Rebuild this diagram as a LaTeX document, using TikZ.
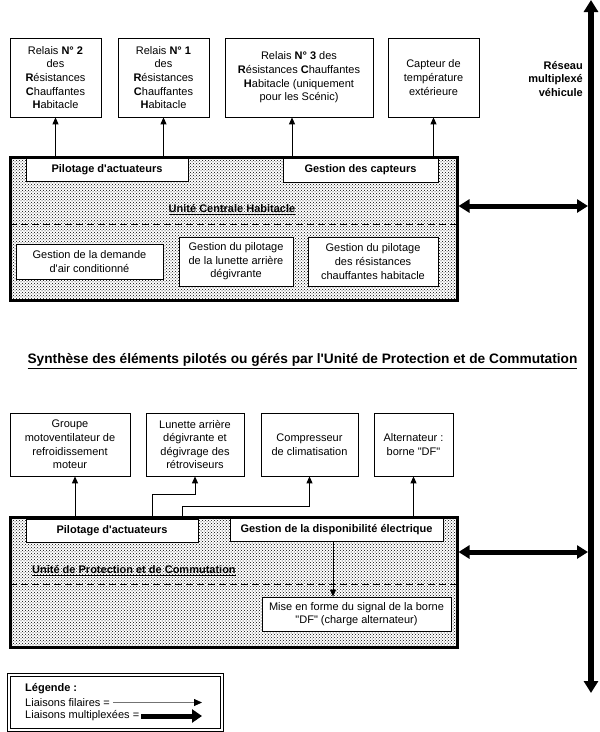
\documentclass[tikz,border=0pt]{standalone}
\usepackage{fontspec}
\setmainfont{Liberation Sans}[Ligatures=TeXOff]
\usetikzlibrary{arrows.meta,patterns}
\begin{document}
\begin{tikzpicture}[x=1pt,y=-1pt,
  box/.style={draw, line width=0.7pt, fill=white, align=center, inner sep=0pt, font=\fontsize{11}{13.6}\selectfont},
  bbox/.style={box, font=\fontsize{11}{13.6}\selectfont\bfseries},
  unit/.style={draw, line width=3pt, pattern=crosshatch dots, pattern color=black, inner sep=0pt},
  wire/.style={line width=0.8pt, -{Triangle[length=7pt,width=6pt]}},
  mux/.style={line width=5pt, {Triangle[length=11pt,width=13pt]}-{Triangle[length=11pt,width=13pt]}},
  bus/.style={line width=6pt, {Triangle[length=12pt,width=14pt]}-{Triangle[length=12pt,width=14pt]}},
  dashline/.style={line width=0.8pt, dash pattern=on 7pt off 4pt},
  lbl/.style={inner sep=0pt, font=\fontsize{11}{13.6}\selectfont\bfseries},
  txt/.style={inner sep=0pt, font=\fontsize{11}{13.6}\selectfont},
  frame/.style={draw, line width=0.8pt, inner sep=0pt},
]
\useasboundingbox (0,0) rectangle (600,732);

% ---------- top : Unite Centrale Habitacle ----------
\node[box, minimum width=91pt, minimum height=79pt] (r2) at (55.5,77.5)
  {Relais \textbf{N° 2}\\des\\\textbf{R}ésistances\\\textbf{C}hauffantes\\\textbf{H}abitacle};
\node[box, minimum width=91pt, minimum height=79pt] (r1) at (163.5,77.5)
  {Relais \textbf{N° 1}\\des\\\textbf{R}ésistances\\\textbf{C}hauffantes\\\textbf{H}abitacle};
\node[box, minimum width=148pt, minimum height=79pt] (r3) at (299,77.5)
  {Relais \textbf{N° 3} des\\\textbf{R}ésistances \textbf{C}hauffantes\\\textbf{H}abitacle (uniquement\\pour les Scénic)};
\node[box, minimum width=91pt, minimum height=79pt] (cap) at (433.5,77.5)
  {Capteur de\\température\\extérieure};

\node[unit, minimum width=447pt, minimum height=143pt] (uch) at (233.5,228.5) {};
\draw[dashline] ([yshift=4.5pt,xshift=1.5pt]uch.west) -- ([yshift=4.5pt,xshift=-1.5pt]uch.east);
\node[bbox, minimum width=162pt, minimum height=23pt] (pil1) at (107,169.5) {Pilotage d'actuateurs};
\node[bbox, minimum width=155pt, minimum height=24pt] (gcap) at (360.5,170) {Gestion des capteurs};
\node[lbl] (uchl) at (232,210) {\underline{Unité Centrale Habitacle}};
\node[box, minimum width=147pt, minimum height=35pt] (gdem) at (89.5,261.5)
  {Gestion de la demande\\d'air conditionné};
\node[box, minimum width=114pt, minimum height=49pt] (glun) at (236,261.5)
  {Gestion du pilotage\\de la lunette arrière\\dégivrante};
\node[box, minimum width=130pt, minimum height=49pt] (gres) at (373,261.5)
  {Gestion du pilotage\\des résistances\\chauffantes habitacle};

\draw[wire] (r2.south |- uch.north) -- (r2.south);
\draw[wire] (r1.south |- uch.north) -- (r1.south);
\draw[wire] ([xshift=-7pt]r3.south |- uch.north) -- ([xshift=-7pt]r3.south);
\draw[wire] (cap.south |- uch.north) -- (cap.south);

% ---------- bus ----------
\coordinate (bt) at (591,0);
\coordinate (bb) at (591,693);
\draw[bus] (bt) -- (bb);
\node[lbl, align=right, anchor=east] (res) at (583,79) {Réseau\\multiplexé\\véhicule};
\coordinate (m1) at (588,206);
\draw[mux] (uch.east |- m1) -- (m1);

% ---------- title ----------
\node[inner sep=0pt, font=\fontsize{13.7}{15}\selectfont\bfseries] (title) at (302.5,361)
  {\underline{Synthèse des éléments pilotés ou gérés par l'Unité de Protection et de Commutation}};

% ---------- bottom : Unite de Protection et de Commutation ----------
\node[box, minimum width=120pt, minimum height=63pt] (g1) at (70,444.5)
  {Groupe\\motoventilateur de\\refroidissement\\moteur};
\node[box, minimum width=98pt, minimum height=63pt] (lun) at (195,444.5)
  {Lunette arrière\\dégivrante et\\dégivrage des\\rétroviseurs};
\node[box, minimum width=97pt, minimum height=63pt] (comp) at (309.5,444.5)
  {Compresseur\\de climatisation};
\node[box, minimum width=79pt, minimum height=63pt] (alt) at (413.5,444.5)
  {Alternateur :\\borne "DF"};

\node[unit, minimum width=447pt, minimum height=130pt] (upc) at (233.5,582) {};
\draw[dashline] ([yshift=-2pt,xshift=1.5pt]upc.west) -- ([yshift=-2pt,xshift=-1.5pt]upc.east);
\node[bbox, minimum width=172pt, minimum height=23pt] (pil2) at (112,530.5) {Pilotage d'actuateurs};
\node[bbox, minimum width=213pt, minimum height=23pt] (gdis) at (336.5,529.5) {Gestion de la disponibilité électrique};
\node[lbl, anchor=west] (upcl) at (32,571) {\underline{Unité de Protection et de Commutation}};
\node[box, minimum width=189pt, minimum height=34pt] (mise) at (356.5,614)
  {Mise en forme du signal de la borne\\"DF" (charge alternateur)};

\draw[wire] ([xshift=5pt]g1.south |- upc.north) -- ([xshift=5pt]g1.south);
\draw[wire] ([xshift=40pt]pil2.north) -- ++(0,-24) -| (lun.south);
\draw[wire] ([xshift=70pt]pil2.north) -- ++(0,-12) -| (comp.south);
\draw[wire] (alt.south |- gdis.north) -- (alt.south);
\draw[wire] ([xshift=-3.5pt]gdis.south) -- ([xshift=-3.5pt]gdis.south |- mise.north);

\coordinate (m2) at (588,552);
\draw[mux] (upc.east |- m2) -- (m2);

% ---------- legend ----------
\node[frame, minimum width=216pt, minimum height=58pt] (leg) at (115,702) {};
\node[frame, minimum width=210pt, minimum height=52pt] (leg2) at (leg.center) {};
\node[lbl, anchor=west] (lt) at (25,689) {Légende :};
\node[txt, anchor=west] (l1) at (25,702.5) {Liaisons filaires =};
\node[txt, anchor=west] (l2) at (25,716) {Liaisons multiplexées =};
\coordinate (l1e) at (202,702.5);
\coordinate (l2e) at (202,716);
\draw[line width=0.8pt, draw=black!55, -{Triangle[length=8pt,width=7pt,black]}] ([xshift=3pt]l1.east) -- (l1e);
\draw[line width=5pt, -{Triangle[length=10pt,width=13pt]}] ([xshift=2pt]l2.east) -- (l2e);
\end{tikzpicture}
\end{document}
